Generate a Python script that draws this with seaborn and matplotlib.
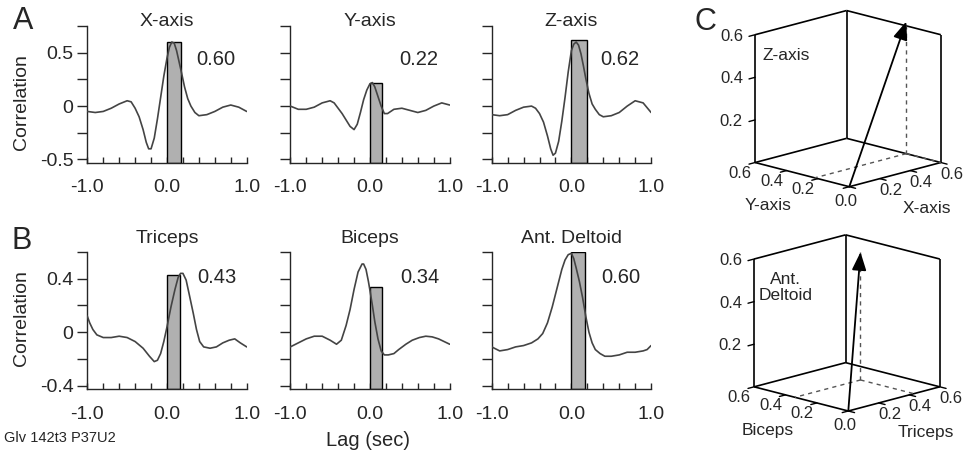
import numpy as np
import pandas as pd
import matplotlib
matplotlib.use("Agg")
import matplotlib.pyplot as plt
from matplotlib.ticker import MultipleLocator, FixedLocator
import seaborn as sns

# ---- data ----
a_titles = ["X-axis", "Y-axis", "Z-axis"]
a_corr = [0.60, 0.22, 0.62]
b_titles = ["Triceps", "Biceps", "Ant. Deltoid"]
b_corr = [0.43, 0.34, 0.60]
bar_width = [0.17, 0.15, 0.19, 0.16, 0.15, 0.165]

x_lag = [-1.0, -0.9, -0.8, -0.7, -0.6, -0.5, -0.45, -0.4, -0.35, -0.3, -0.26, -0.23, -0.2,
         -0.16, -0.12, -0.08, -0.04, 0.0, 0.03, 0.06, 0.09, 0.12, 0.15, 0.18, 0.22, 0.26,
         0.3, 0.35, 0.4, 0.5, 0.6, 0.7, 0.8, 0.9, 1.0]
x_corr = [-0.05, -0.06, -0.05, -0.02, 0.02, 0.05, 0.04, -0.02, -0.10, -0.22, -0.34, -0.40, -0.40,
          -0.30, -0.12, 0.08, 0.28, 0.45, 0.55, 0.60, 0.59, 0.52, 0.42, 0.32, 0.18, 0.07,
          0.0, -0.06, -0.09, -0.08, -0.05, -0.01, 0.01, -0.01, -0.05]

y_lag = [-1.0, -0.9, -0.8, -0.7, -0.6, -0.5, -0.45, -0.4, -0.35, -0.3, -0.25, -0.2, -0.16,
         -0.12, -0.08, -0.04, 0.0, 0.03, 0.06, 0.1, 0.14, 0.18, 0.22, 0.26, 0.3, 0.4, 0.5,
         0.6, 0.7, 0.8, 0.9, 1.0]
y_corr = [0.0, -0.03, -0.03, -0.01, 0.03, 0.05, 0.03, -0.02, -0.07, -0.13, -0.19, -0.22, -0.17,
          -0.06, 0.06, 0.15, 0.21, 0.22, 0.18, 0.09, 0.0, -0.07, -0.07, -0.05, -0.03, -0.02, -0.04,
          -0.06, -0.04, 0.0, 0.03, 0.01]

z_lag = x_lag
z_corr = [-0.08, -0.09, -0.08, -0.04, -0.01, 0.0, -0.02, -0.07, -0.15, -0.28, -0.40, -0.46, -0.44,
          -0.33, -0.14, 0.08, 0.32, 0.52, 0.58, 0.60, 0.57, 0.49, 0.38, 0.26, 0.12, 0.02,
          -0.03, -0.08, -0.10, -0.09, -0.06, 0.0, 0.05, 0.03, -0.06]

tri_lag = [-1.0, -0.97, -0.93, -0.88, -0.8, -0.7, -0.6, -0.5, -0.4, -0.3, -0.22, -0.16, -0.12,
           -0.08, -0.04, 0.0, 0.05, 0.1, 0.14, 0.17, 0.2, 0.24, 0.28, 0.33, 0.37, 0.41, 0.46,
           0.54, 0.62, 0.7, 0.78, 0.85, 0.92, 1.0]
tri_corr = [0.12, 0.07, 0.02, -0.02, -0.04, -0.04, -0.03, -0.04, -0.07, -0.12, -0.18, -0.22, -0.21,
            -0.16, -0.07, 0.04, 0.19, 0.32, 0.41, 0.44, 0.44, 0.39, 0.28, 0.14, 0.02, -0.07, -0.11,
            -0.12, -0.11, -0.08, -0.06, -0.05, -0.08, -0.11]

bic_lag = [-1.0, -0.9, -0.8, -0.7, -0.6, -0.5, -0.42, -0.36, -0.3, -0.25, -0.2, -0.15, -0.1,
           -0.08, -0.05, -0.02, 0.0, 0.03, 0.06, 0.1, 0.14, 0.18, 0.23, 0.3, 0.36, 0.45, 0.53,
           0.62, 0.7, 0.78, 0.86, 0.93, 1.0]
bic_corr = [-0.11, -0.08, -0.05, -0.03, -0.03, -0.06, -0.09, -0.06, 0.05, 0.17, 0.32, 0.45, 0.51,
            0.51, 0.47, 0.38, 0.31, 0.2, 0.08, -0.05, -0.14, -0.17, -0.17, -0.16, -0.13, -0.09, -0.06,
            -0.04, -0.03, -0.035, -0.05, -0.07, -0.09]

del_lag = [-1.0, -0.9, -0.8, -0.7, -0.6, -0.5, -0.42, -0.36, -0.3, -0.24, -0.18, -0.12, -0.08,
           -0.04, 0.0, 0.03, 0.06, 0.1, 0.14, 0.18, 0.22, 0.26, 0.3, 0.36, 0.42, 0.5, 0.6, 0.7,
           0.8, 0.9, 0.95, 1.0]
del_corr = [-0.11, -0.14, -0.13, -0.11, -0.10, -0.08, -0.05, -0.01, 0.07, 0.19, 0.33, 0.47, 0.54,
            0.58, 0.59, 0.55, 0.48, 0.38, 0.26, 0.12, 0.0, -0.08, -0.13, -0.16, -0.18, -0.18, -0.17,
            -0.15, -0.15, -0.14, -0.13, -0.10]

a_curves = [(x_lag, x_corr), (y_lag, y_corr), (z_lag, z_corr)]
b_curves = [(tri_lag, tri_corr), (bic_lag, bic_corr), (del_lag, del_corr)]

# 3D vectors for panel C (x, y, z)
top_vec = [a_corr[0], a_corr[1], a_corr[2]]
bot_vec = [b_corr[0], b_corr[1], b_corr[2]]
top_names = ["X-axis", "Y-axis", "Z-axis"]
bot_names = ["Triceps", "Biceps", "Ant.\nDeltoid"]

# ---- style ----
sns.set_style("ticks")
plt.rcParams["font.family"] = ["Liberation Sans", "DejaVu Sans"]

W, H = 979, 462
fig = plt.figure(figsize=(W / 100, H / 100), dpi=100)


def px_axes(left, top, width, height):
    return fig.add_axes([left / W, 1 - (top + height) / H, width / W, height / H])


def corr_panel(ax, lag, corr, value, width, title, ylim, yticks, ylabels, minor, title_y, lab_xy):
    ax.bar(0, value - ylim[0], bottom=ylim[0], width=width, align="edge",
           color="#b0b0b0", edgecolor="black", linewidth=1.0, zorder=2)
    df = pd.DataFrame({"lag": lag, "corr": corr})
    sns.lineplot(data=df, x="lag", y="corr", ax=ax, color="#444444", linewidth=1.2,
                 zorder=3, sort=False)
    ax.set_xlim(-1, 1)
    ax.set_ylim(*ylim)
    sns.despine(ax=ax)
    for s in ("left", "bottom"):
        ax.spines[s].set_linewidth(1.0)
    ax.set_xticks([-1, 0, 1])
    ax.set_xticklabels(["-1.0", "0.0", "1.0"])
    ax.xaxis.set_minor_locator(MultipleLocator(0.2))
    ax.set_yticks(yticks)
    ax.set_yticklabels(ylabels)
    ax.yaxis.set_minor_locator(FixedLocator(minor))
    ax.tick_params(axis="x", which="both", direction="in", length=4, width=1.0,
                   labelsize=14, pad=12)
    ax.tick_params(axis="y", which="both", direction="out", length=7, width=1.0,
                   labelsize=14, pad=3)
    ax.set_xlabel("")
    ax.set_ylabel("")
    ax.text(0.5, title_y, title, transform=ax.transAxes, ha="center", va="center", fontsize=14)
    ax.text(lab_xy[0], lab_xy[1], f"{value:.2f}", ha="center", va="center", fontsize=14.5)


a_left = [87.3, 290.3, 491.7]
for i in range(3):
    ax = px_axes(a_left[i], 26, 159.4, 136.7)
    corr_panel(ax, a_curves[i][0], a_curves[i][1], a_corr[i], bar_width[i], a_titles[i],
               (-0.53, 0.75), [-0.5, 0, 0.5], ["-0.5", "0", "0.5"], [-0.25, 0.25, 0.75],
               1.03, (0.61, 0.44))
    if i == 0:
        ax.set_ylabel("Correlation", fontsize=14)
        ax.yaxis.set_label_coords(-0.36, 0.44)
    else:
        ax.set_yticklabels([])

for i in range(3):
    ax = px_axes(a_left[i], 252, 159.4, 137)
    corr_panel(ax, b_curves[i][0], b_curves[i][1], b_corr[i], bar_width[i + 3], b_titles[i],
               (-0.425, 0.6), [-0.4, 0, 0.4], ["-0.4", "0", "0.4"], [-0.2, 0.2, 0.6],
               1.10, (0.62, 0.41))
    if i == 0:
        ax.set_ylabel("Correlation", fontsize=14)
        ax.yaxis.set_label_coords(-0.36, 0.52)
    else:
        ax.set_yticklabels([])

fig.text(23 / W, 1 - 21 / H, "A", fontsize=22, ha="center", va="center")
fig.text(22 / W, 1 - 241 / H, "B", fontsize=22, ha="center", va="center")
fig.text(705 / W, 1 - 22 / H, "C", fontsize=22, ha="center", va="center")
fig.text(368 / W, 1 - 440 / H, "Lag (sec)", fontsize=14.5, ha="center", va="center")
fig.text(4 / W, 1 - 437.5 / H, "Glv 142t3 P37U2", fontsize=10.5, ha="left", va="center")

# ---- panel C: oblique 3D boxes ----
S = 160.0  # px per projected unit
PX = (152.5 / S, 40.3 / S)
PY = (-157.0 / S, 40.3 / S)
PZ = (0.0, 213.0 / S)
L = 0.6
TL = 0.04


def project(x, y, z):
    return (PX[0] * x + PY[0] * y + PZ[0] * z, PX[1] * x + PY[1] * y + PZ[1] * z)


def seg(ax, p, q, **kw):
    a, b = project(*p), project(*q)
    ax.plot([a[0], b[0]], [a[1], b[1]], **kw)


def box_panel(top, origin, vec, names, inner_v):
    ax = px_axes(680, top, 299, 231)
    ox, oy = origin
    ax.set_xlim((680 - ox) / S, (979 - ox) / S)
    ax.set_ylim((oy - (top + 231)) / S, (oy - top) / S)
    ax.axis("off")
    k = dict(color="black", lw=1.2, solid_capstyle="butt")
    edges = [((0, 0, 0), (L, 0, 0)), ((0, 0, 0), (0, L, 0)), ((L, 0, 0), (L, L, 0)),
             ((0, L, 0), (L, L, 0)), ((0, L, 0), (0, L, L)), ((L, L, 0), (L, L, L)),
             ((L, 0, 0), (L, 0, L)), ((0, L, L), (L, L, L)), ((L, 0, L), (L, L, L))]
    for p, q in edges:
        seg(ax, p, q, **k)
    kt = dict(color="black", lw=1.0)
    for t in [0, 0.2, 0.4, 0.6]:
        seg(ax, (t, 0, 0), (t, -TL, 0), **kt)
        seg(ax, (0, t, 0), (-TL, t, 0), **kt)
    for t in [0.2, 0.4, 0.6]:
        seg(ax, (0, L, t), (-TL, L, t), **kt)
        u, v = project(-TL, L, t)
        ax.text(u - 6 / S, v, f"{t:.1f}", ha="right", va="center", fontsize=12)
        u, v = project(0, t, 0)
        ax.text(u - 15 / S, v - 11 / S, f"{t:.1f}", ha="center", va="center", fontsize=12)
        u, v = project(t, 0, 0)
        ax.text(u + 11 / S, v - 12 / S, f"{t:.1f}", ha="center", va="center", fontsize=12)
    ax.text(-3.5 / S, -15 / S, "0.0", ha="center", va="center", fontsize=12)
    ax.text(78 / S, -22 / S, names[0], ha="center", va="center", fontsize=12.5)
    ax.text(-81 / S, -19 / S, names[1], ha="center", va="center", fontsize=12.5)
    ax.text(-63 / S, inner_v / S, names[2], ha="center", va="center", fontsize=12.5,
            linespacing=1.0)
    vx, vy, vz = vec
    kd = dict(color="#555555", lw=1.0, dashes=(3, 3))
    seg(ax, (vx, vy, 0), (vx, vy, vz), **kd)
    seg(ax, (vx, vy, 0), (0, vy, 0), **kd)
    seg(ax, (vx, vy, 0), (vx, 0, 0), **kd)
    ax.annotate("", xy=project(vx, vy, vz), xytext=project(0, 0, 0),
                arrowprops=dict(arrowstyle="-|>,head_length=0.55,head_width=0.22",
                                color="black", lw=1.3, mutation_scale=20,
                                shrinkA=0, shrinkB=0))
    return ax


box_panel(0, (849.3, 186.7), top_vec, top_names, 131.7)
box_panel(231, (848.3, 411.0), bot_vec, bot_names, 123.5)

fig.savefig("out.png", dpi=100)
